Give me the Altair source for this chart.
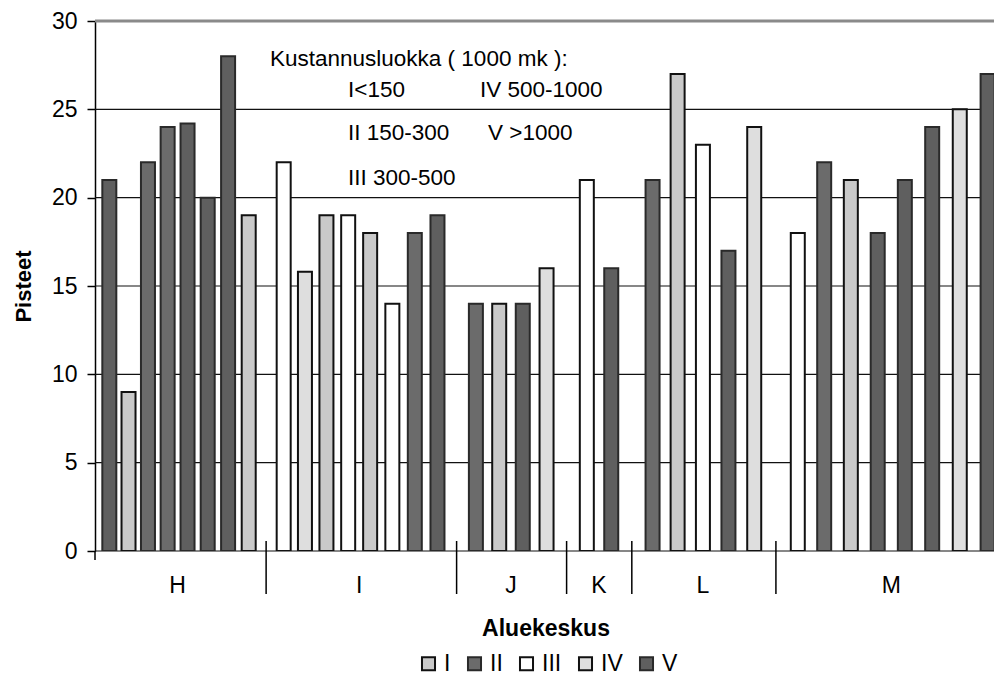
import altair as alt
import pandas as pd

# ---------------- data ----------------
GROUPS = ["H", "I", "J", "K", "L", "M"]
CLASSES = ["I", "II", "III", "IV", "V"]

H_CLASS = ["V", "I", "II", "II", "V", "V", "V", "I"]
H_VALUES = [21, 9, 22, 24, 24.2, 20, 28, 19]
I_CLASS = ["III", "IV", "I", "III", "I", "III", "II", "V"]
I_VALUES = [22, 15.8, 19, 19, 18, 14, 18, 19]
J_CLASS = ["II", "I", "V", "IV"]
J_VALUES = [14, 14, 14, 16]
K_CLASS = ["III", "V"]
K_VALUES = [21, 16]
L_CLASS = ["II", "I", "III", "V", "IV"]
L_VALUES = [21, 27, 23, 17, 24]
M_CLASS = ["III", "II", "I", "V", "V", "V", "IV", "V"]
M_VALUES = [18, 22, 21, 18, 21, 24, 25, 27]

Y_TICKS = [0, 5, 10, 15, 20, 25, 30]
NOTE_LINES = ["Kustannusluokka ( 1000 mk ):", "I<150", "IV 500-1000",
              "II 150-300", "V >1000", "III 300-500"]

# ---------------- layout / style ----------------
GROUP_GAP = 0.67      # extra slot fraction between groups
SCAN_OFFSET = 80.4    # emulates the progressive stretch of the scanned page
FONT = "Liberation Sans"
FILLS = ["#c9c9c9", "#6b6b6b", "#ffffff", "#dedede", "#5f5f5f"]
STROKES = ["#111111", "#2a2a2a", "#111111", "#111111", "#2a2a2a"]

classes_list = [H_CLASS, I_CLASS, J_CLASS, K_CLASS, L_CLASS, M_CLASS]
values_list = [H_VALUES, I_VALUES, J_VALUES, K_VALUES, L_VALUES, M_VALUES]

rows, centers, seps = [], [], []
pos = 0.0
for gi, (g, cls, vals) in enumerate(zip(GROUPS, classes_list, values_list)):
    start = pos
    for c, v in zip(cls, vals):
        rows.append({"group": g, "klass": c, "value": v, "xv": pos + SCAN_OFFSET})
        pos += 1
    end = pos - 1
    centers.append({"group": g, "xv": (start + end) / 2 + SCAN_OFFSET})
    if gi < len(GROUPS) - 1:
        seps.append({"xv": end + (1 + GROUP_GAP) / 2 + SCAN_OFFSET})
    pos += GROUP_GAP

bars_df = pd.DataFrame(rows)
centers_df = pd.DataFrame(centers)
seps_df = pd.DataFrame(seps)
grid_df = pd.DataFrame({"value": Y_TICKS[:-1]})
top_df = pd.DataFrame({"value": Y_TICKS[-1:]})
one_df = pd.DataFrame({"k": [0]})

W, H = 899, 530
xs = alt.Scale(type="pow", exponent=2, domain=[-0.49 + SCAN_OFFSET, 37.40 + SCAN_OFFSET],
               zero=False, nice=False)
ys = alt.Scale(domain=[0, 30], nice=False)

YAXIS = alt.Axis(
    values=Y_TICKS, grid=False, tickSize=8, tickColor="black", tickWidth=1.5,
    domainColor="black", domainWidth=1.5, labelFontSize=23, labelFont=FONT,
    labelColor="black", labelPadding=10, title="Pisteet", titleFont=FONT,
    titleFontSize=22, titleFontWeight="bold", titleColor="black",
    titleAngle=270, titleX=-72, titleY=265, titleAlign="center",
    titleBaseline="middle")

grid = alt.Chart(grid_df).mark_rule(color="#111111", strokeWidth=1.2).encode(
    y=alt.Y("value:Q", scale=ys, axis=YAXIS))
top = alt.Chart(top_df).mark_rule(color="#8a8a8a", strokeWidth=3).encode(
    y=alt.Y("value:Q", scale=ys, axis=YAXIS))

legend = alt.Legend(orient="none", legendX=322, legendY=631, direction="horizontal",
                    title=None, symbolType="square", symbolSize=170,
                    symbolStrokeWidth=2, labelFontSize=23, labelFont=FONT,
                    labelColor="black", labelOffset=4, columnPadding=12)

bars = alt.Chart(bars_df).mark_bar(size=14, strokeWidth=2, clip=True).encode(
    x=alt.X("xv:Q", scale=xs, axis=None),
    y=alt.Y("value:Q", scale=ys, axis=YAXIS),
    fill=alt.Fill("klass:N", scale=alt.Scale(domain=CLASSES, range=FILLS), legend=legend),
    stroke=alt.Stroke("klass:N", scale=alt.Scale(domain=CLASSES, range=STROKES), legend=legend),
)

seps_layer = alt.Chart(seps_df).mark_rule(color="black", strokeWidth=1.5).encode(
    x=alt.X("xv:Q", scale=xs, axis=None), y=alt.value(520), y2=alt.value(573))
left_tick = alt.Chart(one_df).mark_rule(color="black", strokeWidth=1.5).encode(
    x=alt.value(0), y=alt.value(H), y2=alt.value(H + 9))

labels = alt.Chart(centers_df).mark_text(fontSize=23, font=FONT, color="black",
                                         baseline="alphabetic").encode(
    x=alt.X("xv:Q", scale=xs, axis=None), y=alt.value(572), text="group:N")

xtitle = alt.Chart(one_df).mark_text(text="Aluekeskus", fontSize=23, font=FONT,
                                     fontWeight="bold", color="black",
                                     baseline="alphabetic").encode(
    x=alt.value(451), y=alt.value(615))

note_pos = [(175, 45), (253, 76), (385, 76), (253, 119), (393, 119), (253, 164)]
notes = [
    alt.Chart(one_df).mark_text(text=t, fontSize=22.5, font=FONT, color="black",
                                align="left", baseline="alphabetic").encode(
        x=alt.value(px), y=alt.value(py))
    for t, (px, py) in zip(NOTE_LINES, note_pos)
]

chart = alt.layer(grid, top, bars, seps_layer, left_tick, labels, xtitle, *notes).properties(
    width=W, height=H,
    padding={"left": 95, "top": 21, "right": 0, "bottom": 134},
    autosize="none", background="white",
).configure_view(stroke=None)

chart.save("out.html", embed_options={"renderer": "svg", "actions": False})
